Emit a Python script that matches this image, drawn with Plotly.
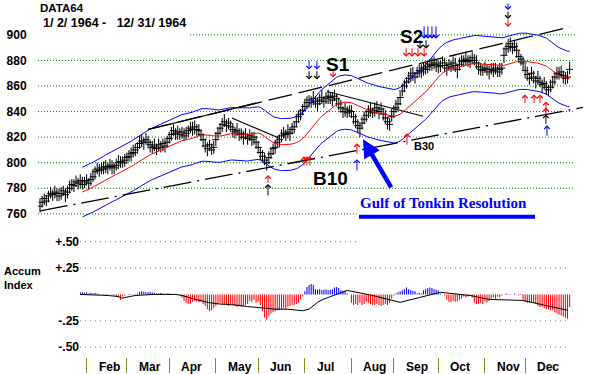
import plotly.graph_objects as go

W, H = 591, 374

# ---------------- data ----------------
closes = [
    # Jan
    766, 769, 772, 770, 774, 776, 775, 777, 776, 774, 776, 778, 775, 777, 780, 783, 782, 785, 784, 786, 783, 785,
    # Feb
    786, 784, 787, 789, 793, 795, 794, 796, 795, 797, 796, 798, 797, 796, 798, 800, 801, 800, 802,
    # Mar
    804, 805, 807, 808, 810, 812, 815, 817, 816, 818, 816, 814, 812, 813, 811, 814, 812, 815, 813, 816,
    # Apr
    819, 822, 825, 823, 824, 822, 824, 821, 823, 825, 827, 826, 828, 826, 825, 822, 818, 813, 811, 814, 810, 812,
    # May
    818, 823, 827, 830, 832, 829, 831, 828, 826, 824, 825, 822, 823, 820, 822, 819, 821, 818, 820, 816,
    # Jun
    812, 808, 805, 802, 800, 804, 807, 811, 812, 816, 818, 821, 823, 822, 824, 823, 826, 828, 832, 836, 838, 841,
    # Jul
    844, 847, 849, 847, 850, 848, 846, 849, 851, 848, 850, 852, 851, 849, 852, 850, 846, 843, 840, 842, 839, 841,
    # Aug
    840, 836, 832, 829, 827, 831, 834, 837, 840, 842, 839, 841, 843, 840, 842, 838, 835, 832, 830, 836,
    # Sep
    840, 843, 846, 851, 856, 860, 863, 866, 868, 870, 867, 870, 872, 871, 874, 873, 875, 877, 876, 878, 877, 875,
    # Oct
    876, 878, 876, 874, 877, 875, 878, 876, 873, 877, 879, 880, 881, 879, 880, 882, 880, 878, 875, 873, 872,
    # Nov
    874, 873, 871, 873, 872, 874, 871, 873, 874, 884, 889, 891, 893, 890, 891, 888, 883, 881, 878,
    # Dec
    872, 869, 866, 870, 867, 864, 866, 863, 861, 862, 859, 857, 859, 863, 867, 870, 869, 871, 868, 866, 867, 873,
]
bar_up = [
    6, 5, 4, 5, 4, 5, 4, 5, 4, 6, 5, 4, 5, 5, 6, 4, 5, 5, 4, 5, 6, 4,
    5, 4, 5, 6, 4, 5, 5, 4, 6, 5, 4, 5, 5, 4, 5, 6, 4, 5, 5,
    4, 5, 5, 6, 5, 4, 6, 5, 4, 5, 5, 4, 5, 6, 4, 5, 5, 4, 6, 5,
    5, 6, 5, 4, 5, 5, 4, 6, 5, 4, 5, 6, 5, 4, 5, 4, 5, 6, 5, 4, 5, 5,
    6, 5, 4, 5, 6, 5, 4, 5, 5, 4, 6, 5, 4, 5, 5, 4, 5, 6, 4, 5,
    5, 4, 5, 6, 4, 5, 5, 4, 6, 5, 4, 5, 5, 4, 6, 5, 5, 4, 6, 5, 4, 5,
    6, 5, 4, 5, 6, 4, 5, 5, 6, 4, 5, 5, 4, 6, 5, 4, 5, 6, 4, 5, 5, 4,
    5, 4, 6, 5, 4, 5, 6, 4, 5, 5, 4, 6, 5, 4, 5, 5, 6, 4, 5, 6,
    5, 6, 5, 4, 6, 5, 4, 5, 6, 5, 4, 5, 5, 6, 4, 5, 5, 4, 6, 5, 4, 5,
    4, 5, 6, 5, 4, 5, 5, 6, 4, 5, 5, 4, 6, 5, 4, 5, 5, 6, 4, 5, 5,
    5, 4, 5, 5, 6, 4, 5, 5, 4, 6, 5, 6, 5, 4, 5, 6, 5, 4, 5,
    5, 6, 4, 5, 5, 4, 6, 5, 4, 5, 5, 4, 6, 5, 4, 5, 6, 5, 4, 5, 5, 6,
]
bar_dn = [
    5, 4, 5, 4, 5, 4, 5, 5, 6, 4, 5, 4, 6, 5, 4, 5, 5, 4, 5, 6, 4, 5,
    4, 5, 5, 4, 6, 4, 5, 5, 4, 5, 5, 4, 6, 5, 4, 5, 5, 4, 5,
    5, 4, 6, 4, 5, 5, 4, 5, 6, 4, 5, 6, 5, 4, 5, 5, 4, 6, 5, 4,
    4, 5, 4, 5, 6, 4, 5, 4, 5, 5, 4, 5, 6, 5, 4, 5, 6, 5, 6, 5, 4, 5,
    5, 4, 5, 6, 4, 5, 5, 4, 6, 5, 4, 5, 5, 6, 4, 5, 4, 5, 6, 5,
    5, 6, 5, 4, 6, 5, 4, 5, 5, 4, 6, 5, 4, 5, 5, 6, 4, 5, 4, 5, 5, 4,
    4, 5, 6, 4, 5, 5, 6, 4, 5, 5, 4, 6, 5, 5, 4, 6, 5, 4, 5, 6, 4, 5,
    5, 6, 5, 6, 7, 5, 4, 5, 5, 6, 4, 5, 5, 6, 4, 5, 5, 6, 5, 4,
    5, 4, 5, 6, 4, 5, 5, 4, 5, 6, 5, 4, 5, 5, 6, 4, 5, 5, 4, 5, 6, 5,
    5, 4, 5, 6, 5, 4, 6, 5, 7, 5, 4, 5, 5, 4, 6, 5, 4, 5, 6, 5, 4,
    4, 5, 6, 4, 5, 5, 4, 6, 5, 6, 5, 5, 6, 5, 4, 6, 5, 5, 6,
    6, 5, 5, 6, 5, 6, 5, 4, 6, 5, 6, 5, 4, 5, 6, 5, 4, 5, 6, 5, 5, 4,
]
days = list(range(len(closes)))
highs = [c + u for c, u in zip(closes, bar_up)]
lows = [c - d for c, d in zip(closes, bar_dn)]

# Accumulation index, one value per trading day from day 19
accum_start = 19
accum = [
    0.02, 0.02, 0.015, 0.02, 0.01, 0.015, 0.01, 0.015, 0.01, 0.005,
    0.0, -0.005, 0.005, -0.01, 0.0, 0.005, -0.01, -0.02,
    -0.03, -0.05, -0.02,
    -0.01, 0.0, 0.005, -0.005, 0.0, 0.005, 0.01,
    0.025, 0.03, 0.025, 0.02, 0.02, 0.025, 0.02,
    0.015, 0.01, 0.01, 0.015, 0.01, 0.005, 0.01, 0.01, 0.005,
    0.0, 0.005, 0.0, -0.005,
    -0.03, -0.06, -0.08, -0.09, -0.085, -0.07,
    -0.06, -0.07, -0.075, -0.07, -0.09,
    -0.11, -0.14, -0.16, -0.15, -0.13, -0.11,
    -0.09, -0.08, -0.1, -0.09, -0.1, -0.11, -0.1, -0.1,
    -0.11, -0.12, -0.11, -0.12, -0.115, -0.1, -0.09,
    -0.06, -0.07, -0.05, -0.08, -0.07,
    -0.1, -0.16, -0.22, -0.24, -0.2,
    -0.18, -0.17, -0.16, -0.15, -0.15, -0.14, -0.13, -0.14,
    -0.12, -0.11, -0.1, -0.1, -0.09, -0.08, -0.05, -0.02,
    0.03, 0.07, 0.09, 0.1, 0.09,
    0.05, 0.045, 0.05, 0.04, 0.045, 0.05, 0.04, 0.045, 0.05,
    0.066, 0.07, 0.06,
    0.04, 0.035, 0.03, 0.01, 0.0,
    -0.08, -0.1, -0.09, -0.1, -0.08, -0.1, -0.09, -0.07, -0.08,
    -0.09, -0.1, -0.1, -0.09, -0.1, -0.11, -0.1, -0.09, -0.1, -0.08, -0.04,
    -0.01, 0.01,
    0.02, 0.03, 0.04, 0.05, 0.066, 0.05, 0.04, 0.035, 0.03,
    0.01, 0.015, 0.01,
    0.04, 0.05, 0.06, 0.066, 0.06, 0.05, 0.045, 0.04,
    0.01, 0.0, -0.01,
    -0.05, -0.07, -0.075, -0.06, -0.07, -0.065, -0.05, -0.04,
    -0.02, -0.03, -0.02, -0.01, -0.03,
    -0.08, -0.09, -0.085, -0.08, -0.09, -0.07, -0.08, -0.06,
    -0.04, -0.03, -0.04, -0.02, -0.03, -0.01,
    0.0, 0.01, 0.005, -0.005, 0.0, 0.01, 0.0, -0.01, 0.005,
    -0.05, -0.07, -0.08, -0.08, -0.075, -0.08, -0.09,
    -0.11, -0.12, -0.12, -0.13, -0.14, -0.14, -0.15, -0.15,
    -0.17, -0.18, -0.19, -0.2, -0.21, -0.22, -0.23,
    -0.12,
]
accum_days = [accum_start + k for k in range(len(accum))]

# smoothed accumulation line (read at turning points)
accum_ma_days = [18.9, 26, 32, 37, 38.7, 45, 54, 64, 67, 73, 79, 84, 92, 98, 105, 111, 117, 124, 127,
                 131, 133.6, 145, 157, 170, 179, 189, 203, 212, 228, 238, 249]
accum_ma_vals = [0.0, -0.002, -0.01, -0.02, -0.035, -0.01, 0.0, 0.0, -0.01, -0.045, -0.075, -0.09, -0.10,
                 -0.115, -0.13, -0.14, -0.14, -0.155, -0.14, -0.075, -0.047, 0.038, -0.01, -0.075, -0.03,
                 0.02, -0.01, -0.047, -0.057, -0.104, -0.15]

# trend lines (day index, price)
chan_up_days = [51.0, 250.2]
chan_up_vals = [826.0, 906.2]
chan_up_solid_end = 102.0
chan_lo_days = [0.0, 256.3]
chan_lo_vals = [762.3, 843.2]
trend1_days = [90.6, 113.3]
trend1_vals = [834.9, 818.9]
trend2_days = [135.5, 180.8]
trend2_vals = [855.7, 836.3]

# signal arrows: day, tail price, tip price, colour
signals = [
    # S1
    (127.0, 880.6, 872.8, "#0000FF"), (127.0, 872.8, 865.0, "#000000"),
    (130.7, 880.6, 872.8, "#0000FF"), (130.7, 872.8, 865.0, "#000000"),
    (138.3, 872.8, 866.6, "#FF0000"),
    # S2
    (181.3, 907.8, 896.9, "#0000FF"), (183.1, 907.8, 896.9, "#0000FF"),
    (185.0, 907.8, 896.9, "#0000FF"), (186.9, 907.8, 896.9, "#0000FF"),
    (179.4, 896.9, 889.1, "#000000"), (182.2, 896.9, 889.1, "#000000"),
    (172.8, 890.7, 882.9, "#FF0000"), (175.6, 890.7, 882.9, "#FF0000"),
    (178.4, 890.7, 882.9, "#FF0000"), (181.3, 890.7, 882.9, "#FF0000"),
    # November sell stack
    (220.9, 925.7, 919.4, "#0000FF"), (220.9, 919.4, 912.4, "#000000"),
    (220.9, 913.2, 906.2, "#FF0000"),
    # B10 (June)
    (107.6, 783.3, 790.3, "#FF0000"), (107.6, 773.2, 783.3, "#000000"),
    (124.6, 796.6, 805.1, "#FF0000"), (126.0, 796.6, 805.1, "#FF0000"),
    (127.4, 796.6, 805.1, "#FF0000"),
    # August
    (149.6, 805.9, 815.2, "#FF0000"), (149.6, 792.7, 802.8, "#0000FF"),
    # B30 (September)
    (173.2, 812.9, 823.0, "#FF0000"),
    # December buys
    (228.9, 845.6, 853.3, "#FF0000"), (233.2, 845.6, 853.3, "#FF0000"),
    (236.0, 845.6, 853.3, "#FF0000"), (238.8, 839.3, 847.9, "#FF0000"),
    (238.8, 834.6, 843.2, "#FF0000"), (238.8, 829.2, 837.8, "#000000"),
    (239.3, 819.9, 829.2, "#0000FF"),
]

month_names = ["Feb", "Mar", "Apr", "May", "Jun", "Jul", "Aug", "Sep", "Oct", "Nov", "Dec"]
month_starts = [22, 41, 61, 83, 103, 125, 147, 167, 188, 210, 229]

price_ticks = [760, 780, 800, 820, 840, 860, 880, 900]
accum_ticks = [0.5, 0.25, -0.25, -0.5]
accum_tick_text = ["+.50", "+.25", "-.25", "-.50"]

# ---------------- pixel geometry of the picture ----------------
PX_DAY0, PX_PER_DAY = 40.0, 2.1186
PY_900, PX_PER_PT = 33.0, 1.2857
PY_ACC0, PX_PER_ACC = 294.0, 106.0
ONE_PX_DAYS = 1.02 / PX_PER_DAY


def day_at(px):
    return (px - PX_DAY0) / PX_PER_DAY


def price_at(py):
    return 900 - (py - PY_900) / PX_PER_PT


def acc_at(py):
    return (PY_ACC0 - py) / PX_PER_ACC


def fx(px):
    return px / W


def fy(py):
    return 1 - py / H


# moving average (21 day) and its 2.5% envelope
ma_days, ma_vals = [], []
for k in range(20, len(closes)):
    ma_days.append(days[k])
    ma_vals.append(sum(closes[k - 20:k + 1]) / 21.0)
band_hi = [v * 1.025 for v in ma_vals]
band_lo = [v * 0.975 for v in ma_vals]

fig = go.Figure()

# price bars (high-low) as crisp 1px bars, closes as crosses
fig.add_trace(go.Bar(x=days, y=[h - l for h, l in zip(highs, lows)], base=lows, width=ONE_PX_DAYS,
                     marker=dict(color="black", line=dict(color="black", width=0.02)),
                     hoverinfo="skip", showlegend=False))
fig.add_trace(go.Scatter(x=days, y=closes, mode="markers",
                         marker=dict(symbol="line-ew", size=5, line=dict(color="black", width=1)),
                         showlegend=False))

fig.add_trace(go.Scatter(x=ma_days, y=band_hi, mode="lines", line=dict(color="#0000FF", width=1), showlegend=False))
fig.add_trace(go.Scatter(x=ma_days, y=band_lo, mode="lines", line=dict(color="#0000FF", width=1), showlegend=False))
fig.add_trace(go.Scatter(x=ma_days, y=ma_vals, mode="lines", line=dict(color="#FF0000", width=1), showlegend=False))

# trend lines
slope_up = (chan_up_vals[1] - chan_up_vals[0]) / (chan_up_days[1] - chan_up_days[0])
fig.add_trace(go.Scatter(x=chan_up_days, y=chan_up_vals, mode="lines",
                         line=dict(color="black", width=1.3, dash="24px,7px"), showlegend=False))
fig.add_trace(go.Scatter(x=[chan_up_days[0], chan_up_solid_end],
                         y=[chan_up_vals[0], chan_up_vals[0] + (chan_up_solid_end - chan_up_days[0]) * slope_up],
                         mode="lines", line=dict(color="black", width=1.2), showlegend=False))
fig.add_trace(go.Scatter(x=chan_lo_days, y=chan_lo_vals, mode="lines",
                         line=dict(color="black", width=1.3, dash="28px,6px,2px,6px"), showlegend=False))
fig.add_trace(go.Scatter(x=trend1_days, y=trend1_vals, mode="lines", line=dict(color="black", width=1.1),
                         showlegend=False))
fig.add_trace(go.Scatter(x=trend2_days, y=trend2_vals, mode="lines", line=dict(color="black", width=1.1),
                         showlegend=False))

# accumulation index (hatched 1px bars)
acc_colors = ["#0000FF" if v >= 0 else "#FF0000" for v in accum]
fig.add_trace(go.Bar(x=accum_days, y=accum, width=ONE_PX_DAYS,
                     marker=dict(color=acc_colors, line=dict(color=acc_colors, width=0.02)),
                     xaxis="x2", yaxis="y2", hoverinfo="skip", showlegend=False))
fig.add_trace(go.Scatter(x=accum_ma_days, y=accum_ma_vals, mode="lines", line=dict(color="black", width=1),
                         xaxis="x2", yaxis="y2", showlegend=False))

shapes = []
for t in price_ticks:
    x0 = day_at(190) if t == 900 else day_at(38)
    x1 = day_at(357) if t == 760 else day_at(575)
    shapes.append(dict(type="line", xref="x", yref="y", x0=x0, x1=x1, y0=t, y1=t,
                       line=dict(color="#008000", width=1, dash="1px,2px"), layer="below"))
for t in accum_ticks:
    col = "#b070a0" if t == -0.25 else "#707070"
    x1 = day_at(357) if t == 0.5 else day_at(570)
    shapes.append(dict(type="line", xref="x2", yref="y2", x0=day_at(80), x1=x1, y0=t, y1=t,
                       line=dict(color=col, width=1, dash="1px,4px"), layer="below"))
# underline under the caption
shapes.append(dict(type="line", xref="paper", yref="paper", x0=fx(359), x1=fx(535), y0=fy(216), y1=fy(216),
                   line=dict(color="#0000FF", width=4)))

annotations = []
bold = "bold"
SANS = "Liberation Sans, Arial"
annotations.append(dict(text="DATA64", x=fx(38), y=fy(6.5), xref="paper", yref="paper", xanchor="left",
                        yanchor="middle", showarrow=False,
                        font=dict(family=SANS, size=11.5, color="black", weight=bold)))
annotations.append(dict(text="1/ 2/ 1964 -   12/ 31/ 1964", x=fx(41), y=fy(21.5), xref="paper", yref="paper",
                        xanchor="left", yanchor="middle", showarrow=False,
                        font=dict(family=SANS, size=12.5, color="black", weight=bold)))
for txt, cx, cy, sz in [("S1", 338, 63, 19), ("S2", 411, 35, 19), ("B10", 330, 177, 19), ("B30", 424, 145, 11)]:
    annotations.append(dict(text=txt, x=fx(cx), y=fy(cy), xref="paper", yref="paper", xanchor="center",
                            yanchor="middle", showarrow=False,
                            font=dict(family=SANS, size=sz, color="black", weight=bold)))
annotations.append(dict(text="Gulf of Tonkin Resolution", x=fx(443), y=fy(202), xref="paper", yref="paper",
                        xanchor="center", yanchor="middle", showarrow=False,
                        font=dict(family="Liberation Serif, Times New Roman", size=15, color="#0000FF",
                                  weight=bold)))
annotations.append(dict(text="Accum", x=fx(2), y=fy(270), xref="paper", yref="paper", xanchor="left",
                        yanchor="middle", showarrow=False,
                        font=dict(family=SANS, size=11, color="black", weight=bold)))
annotations.append(dict(text="Index", x=fx(2), y=fy(284.5), xref="paper", yref="paper", xanchor="left",
                        yanchor="middle", showarrow=False,
                        font=dict(family=SANS, size=11, color="black", weight=bold)))
for name, d in zip(month_names, month_starts):
    annotations.append(dict(text=name, x=d, y=fy(367), xref="x2", yref="paper", xanchor="left",
                            yanchor="middle", xshift=10, showarrow=False,
                            font=dict(family=SANS, size=12, color="black", weight=bold)))

# big blue arrow pointing at the August low
annotations.append(dict(x=day_at(363), y=price_at(138), ax=day_at(392), ay=price_at(188), xref="x", yref="y",
                        axref="x", ayref="y", text="", showarrow=True, arrowhead=2, arrowsize=0.8,
                        arrowwidth=4.5, arrowcolor="#0000FF"))
for d, tail, tip, col in signals:
    annotations.append(dict(x=d, y=tip, ax=d, ay=tail, xref="x", yref="y", axref="x", ayref="y", text="",
                            showarrow=True, arrowhead=4, arrowsize=1.1, arrowwidth=1, arrowcolor=col))

fig.update_layout(
    width=W, height=H, margin=dict(l=0, r=0, t=0, b=0),
    paper_bgcolor="white", plot_bgcolor="white", showlegend=False, barmode="overlay",
    xaxis=dict(domain=[fx(38), 1], range=[day_at(38), day_at(591)], visible=False, anchor="y"),
    yaxis=dict(domain=[fy(228), 1], range=[price_at(228), price_at(0)], anchor="x",
               tickvals=price_ticks, ticktext=[str(t) for t in price_ticks], ticks="outside", ticklen=8,
               tickcolor="rgba(0,0,0,0)", showgrid=False, zeroline=False, showline=False,
               tickfont=dict(family=SANS, size=12, color="black", weight=bold)),
    xaxis2=dict(domain=[fx(80), fx(575)], range=[day_at(80), day_at(575)], anchor="y2",
                tickvals=month_starts, ticks="outside", ticklen=15, tickwidth=1, tickcolor="#8a8a20",
                showticklabels=False, showgrid=False, zeroline=False, showline=False),
    yaxis2=dict(domain=[fy(357), fy(236)], range=[acc_at(357), acc_at(236)], anchor="x2",
                tickvals=accum_ticks, ticktext=accum_tick_text, ticks="", showgrid=False, zeroline=False,
                showline=False, tickfont=dict(family=SANS, size=12, color="black", weight=bold)),
    shapes=shapes, annotations=annotations,
)

fig.write_html("out.html", config={"displayModeBar": False},
               post_script="document.body.style.margin='0';")
